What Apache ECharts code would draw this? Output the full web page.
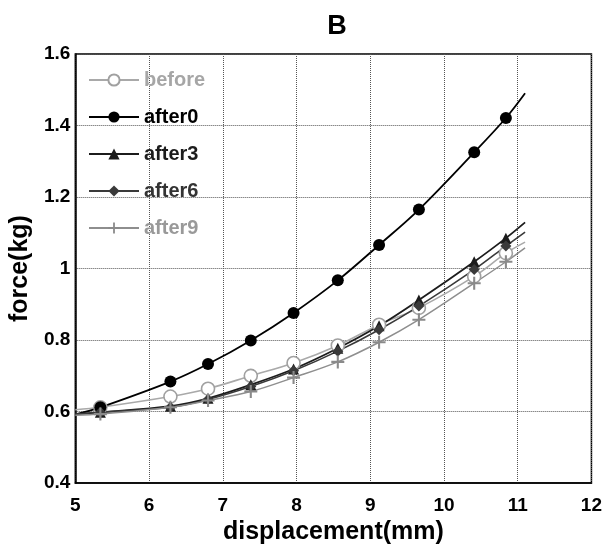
<!DOCTYPE html>
<html>
<head>
<meta charset="utf-8">
<script src="https://cdn.jsdelivr.net/npm/echarts@6/dist/echarts.min.js"></script>
<style>
html,body{margin:0;padding:0;background:#fff;}
#chart{width:605px;height:550px;}
</style>
</head>
<body>
<div id="chart"></div>
<script>
// ---- data ----
const seriesNames = ['before', 'after0', 'after3', 'after6', 'after9'];
const markerX = [5.34, 6.29, 6.80, 7.38, 7.96, 8.56, 9.12, 9.66, 10.41, 10.84];
const curveStartX = 5.0;
const curveEndX = 11.1;

const before = [0.612, 0.642, 0.664, 0.700, 0.736, 0.785, 0.843, 0.890, 0.978, 1.043];
const beforeEnds = [0.605, 1.074];
const after0 = [0.612, 0.684, 0.733, 0.799, 0.876, 0.967, 1.066, 1.165, 1.325, 1.421];
const after0Ends = [0.592, 1.490];
const after3 = [0.598, 0.615, 0.637, 0.675, 0.719, 0.777, 0.840, 0.912, 1.019, 1.085];
const after3Ends = [0.593, 1.129];
const after6 = [0.598, 0.612, 0.634, 0.670, 0.714, 0.769, 0.829, 0.895, 0.997, 1.063];
const after6Ends = [0.593, 1.102];
const after9 = [0.593, 0.612, 0.631, 0.656, 0.695, 0.739, 0.794, 0.857, 0.959, 1.019];
const after9Ends = [0.590, 1.058];

const xTickLabels = ['5', '6', '7', '8', '9', '10', '11', '12'];
const yTickLabels = ['0.4', '0.6', '0.8', '1', '1.2', '1.4', '1.6'];

const titleText = 'B';
const xName = 'displacement(mm)';
const yName = 'force(kg)';

// ---- build ----
function buildData(vals, ends) {
  const d = [{ value: [curveStartX, ends[0]], symbol: 'none' }];
  markerX.forEach((x, i) => d.push([x, vals[i]]));
  d.push({ value: [curveEndX, ends[1]], symbol: 'none' });
  return d;
}

const FONT = '"Liberation Sans", Arial, sans-serif';
const plusPath = 'path://M4.2,0H5.8V10H4.2Z M0,4.2H10V5.8H0Z';

const styles = {
  before: { line: '#a9a9a9', width: 1.6, symbol: 'circle', size: 13, fill: '#ffffff', border: '#a0a0a0', bw: 1.6, text: '#a6a6a6' },
  after0: { line: '#000000', width: 1.8, symbol: 'circle', size: 12, fill: '#000000', border: '#000000', bw: 0, text: '#000000' },
  after3: { line: '#1c1c1c', width: 1.8, symbol: 'triangle', size: 11, fill: '#1c1c1c', border: '#1c1c1c', bw: 0, text: '#1c1c1c' },
  after6: { line: '#3a3a3a', width: 1.6, symbol: 'diamond', size: 11, fill: '#3a3a3a', border: '#3a3a3a', bw: 0, text: '#333333' },
  after9: { line: '#8e8e8e', width: 1.5, symbol: plusPath, size: 13, fill: '#8a8a8a', border: '#8a8a8a', bw: 0, text: '#999999' }
};

const dataMap = {
  before: buildData(before, beforeEnds),
  after0: buildData(after0, after0Ends),
  after3: buildData(after3, after3Ends),
  after6: buildData(after6, after6Ends),
  after9: buildData(after9, after9Ends)
};

const series = seriesNames.map(n => {
  const s = styles[n];
  return {
    name: n,
    type: 'line',
    smooth: 0.35,
    data: dataMap[n],
    symbol: s.symbol,
    symbolSize: s.size,
    showAllSymbol: true,
    lineStyle: { color: s.line, width: s.width },
    itemStyle: { color: s.fill, borderColor: s.border, borderWidth: s.bw },
    emphasis: { disabled: true },
    z: 3
  };
});

const chart = echarts.init(document.getElementById('chart'), null, { renderer: 'canvas' });
chart.setOption({
  animation: false,
  backgroundColor: '#ffffff',
  title: {
    text: titleText,
    left: 332,
    top: 8,
    textAlign: 'center',
    textStyle: { fontFamily: FONT, fontSize: 27, fontWeight: 'bold', color: '#000' }
  },
  legend: {
    orient: 'vertical',
    left: 83,
    top: 65,
    itemWidth: 50,
    itemHeight: 14,
    itemGap: 17,
    selectedMode: false,
    textStyle: { fontFamily: FONT, fontSize: 20, fontWeight: 'bold', lineHeight: 20 },
    data: seriesNames.map(n => ({ name: n, textStyle: { color: styles[n].text } }))
  },
  grid: {
    left: 72, right: 12, top: 54, bottom: 59,
    show: true, borderColor: '#000', borderWidth: 1.5, backgroundColor: 'transparent'
  },
  xAxis: {
    type: 'value',
    min: 5, max: 12, interval: 1,
    name: xName,
    nameLocation: 'middle',
    nameGap: 32,
    nameTextStyle: { fontFamily: FONT, fontSize: 25, fontWeight: 'bold', color: '#000' },
    axisLine: { show: true, lineStyle: { color: '#000', width: 1.5 } },
    axisTick: { show: false },
    axisLabel: {
      margin: 13,
      fontFamily: FONT, fontSize: 19, fontWeight: 'bold', color: '#000',
      formatter: (v, i) => xTickLabels[i]
    },
    splitLine: { show: true, lineStyle: { type: 'dotted', color: '#555', width: 1 } }
  },
  yAxis: {
    type: 'value',
    min: 0.4, max: 1.6, interval: 0.2,
    name: yName,
    nameLocation: 'middle',
    nameGap: 39,
    nameTextStyle: { fontFamily: FONT, fontSize: 25, fontWeight: 'bold', color: '#000' },
    axisLine: { show: true, lineStyle: { color: '#000', width: 1.5 } },
    axisTick: { show: false },
    axisLabel: {
      margin: 5,
      fontFamily: FONT, fontSize: 19, fontWeight: 'bold', color: '#000',
      formatter: (v, i) => yTickLabels[i]
    },
    splitLine: { show: true, lineStyle: { type: 'dotted', color: '#555', width: 1 } }
  },
  series: series
});
</script>
</body>
</html>
